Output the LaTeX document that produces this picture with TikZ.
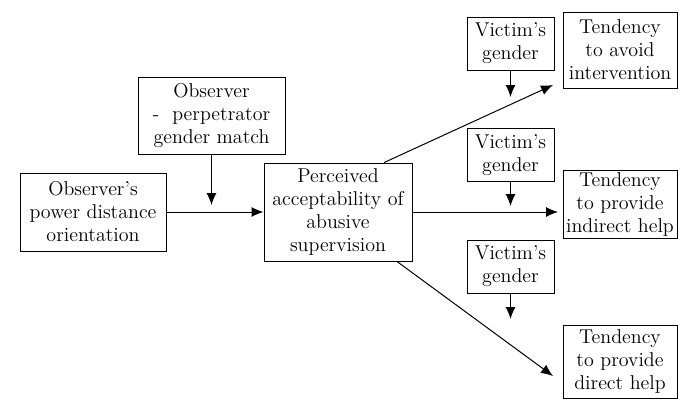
\documentclass[tikz,border=0pt]{standalone}
\usepackage{tikz}
\usetikzlibrary{arrows.meta}

\begin{document}
\begin{tikzpicture}[x=0.6pt,y=-0.6pt,font=\fontsize{12}{13.8}\selectfont,line width=0.6pt,
  box/.style={draw,align=center,inner sep=1pt},
  arr/.style={-{Latex[length=7.2pt,width=6pt]}}]
  \useasboundingbox (0,0) rectangle (683,399);
  \node[box,minimum width=87.6pt,minimum height=46.8pt] (obs) at (93,212) {Observer's\\power distance\\orientation};
  \node[box,minimum width=88.2pt,minimum height=46.2pt] (match) at (211.5,115.5) {Observer\\-\ \ perpetrator\\gender match};
  \node[box,minimum width=88.8pt,minimum height=58.8pt] (accept) at (338,212) {Perceived\\acceptability of\\abusive\\supervision};
  \foreach \i/\y in {1/43.5,2/155,3/266.5}{\node[box,minimum width=52.2pt,minimum height=31.8pt] (g\i) at (510.5,\y) {Victim's\\gender};}
  \node[box,minimum width=68.4pt,minimum height=45.6pt] (avoid) at (620,50) {Tendency\\to avoid\\intervention};
  \node[box,minimum width=68.4pt,minimum height=40.2pt] (indirect) at (620,204.5) {Tendency\\to provide\\indirect help};
  \node[box,minimum width=68.4pt,minimum height=43.8pt] (direct) at (620,361.5) {Tendency\\to provide\\direct help};
  \coordinate (m0) at (211.5,205);
  \coordinate (t1) at (553,85);
  \coordinate (t2) at (558,212);
  \coordinate (t3) at (553,376);
  \foreach \i/\y in {1/97,2/206,3/319}{\coordinate (m\i) at (510.5,\y); \draw[arr] (g\i) -- (m\i);}
  \draw[arr] (obs) -- (accept);
  \draw[arr] (match) -- (m0);
  \draw[arr] (accept.47) -- (t1);
  \draw[arr] (accept) -- (t2);
  \draw[arr] (accept.-40) -- (t3);
\end{tikzpicture}
\end{document}
